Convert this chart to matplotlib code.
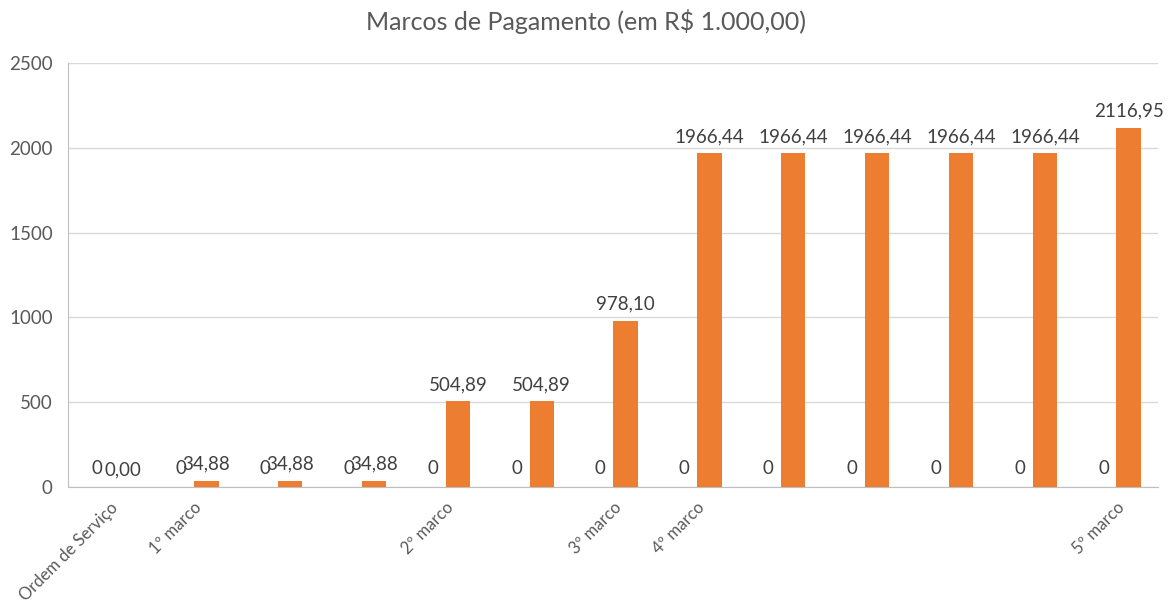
import matplotlib
matplotlib.use("Agg")
import matplotlib.pyplot as plt
import numpy as np

plt.rcParams['font.family'] = ['Lato', 'DejaVu Sans']

categories = ["Ordem de Serviço", "1º marco", "", "", "2º marco", "", "3º marco",
              "4º marco", "", "", "", "", "5º marco"]
serie_zero = [0, 0, 0, 0, 0, 0, 0, 0, 0, 0, 0, 0, 0]
serie_valores = [0.00, 34.88, 34.88, 34.88, 504.89, 504.89, 978.10,
                 1966.44, 1966.44, 1966.44, 1966.44, 1966.44, 2116.95]
yticks = [0, 500, 1000, 1500, 2000, 2500]

fig = plt.figure(figsize=(11.71, 6.04), dpi=100)
ax = fig.add_axes([68/1171, 1-487/604, 1090/1171, 424/604])

x = np.arange(len(categories))
w = 0.29
b0 = ax.bar(x - 0.15, serie_zero, w, color="#4472C4", zorder=3)
b1 = ax.bar(x + 0.15, serie_valores, w, color="#ED7D31", zorder=3)

lab_color = "#404040"
for xi, v in zip(x, serie_zero):
    ax.annotate(f"{v:d}", (xi - 0.15, v), xytext=(0, 7), textcoords="offset points",
                ha="center", va="bottom", fontsize=13.5, color=lab_color)
for xi, v in zip(x, serie_valores):
    ax.annotate(f"{v:.2f}".replace(".", ","), (xi + 0.15, v), xytext=(0, 6),
                textcoords="offset points", ha="center", va="bottom",
                fontsize=13.5, color=lab_color)

ax.set_xlim(-0.5, len(categories) - 0.5)
ax.set_ylim(0, 2500)
ax.set_yticks(yticks)
ax.set_yticklabels([str(t) for t in yticks], fontsize=13.5, color="#595959")
ax.set_xticks(x)
ax.set_xticklabels(categories, rotation=45, ha="right", rotation_mode="anchor",
                   fontsize=12, color="#595959")
ax.tick_params(axis="both", length=0)
ax.tick_params(axis="y", pad=11)
ax.tick_params(axis="x", pad=9)
ax.grid(axis="y", color="#D9D9D9", linewidth=1, zorder=0)
for s in ["top", "right"]:
    ax.spines[s].set_visible(False)
ax.spines["left"].set_color("#BFBFBF")
ax.spines["bottom"].set_color("#BFBFBF")

fig.text(0.5, 1 - 22/604, "Marcos de Pagamento (em R$ 1.000,00)", ha="center", va="center",
         fontsize=18, color="#595959")

fig.savefig("out.png", dpi=100)
